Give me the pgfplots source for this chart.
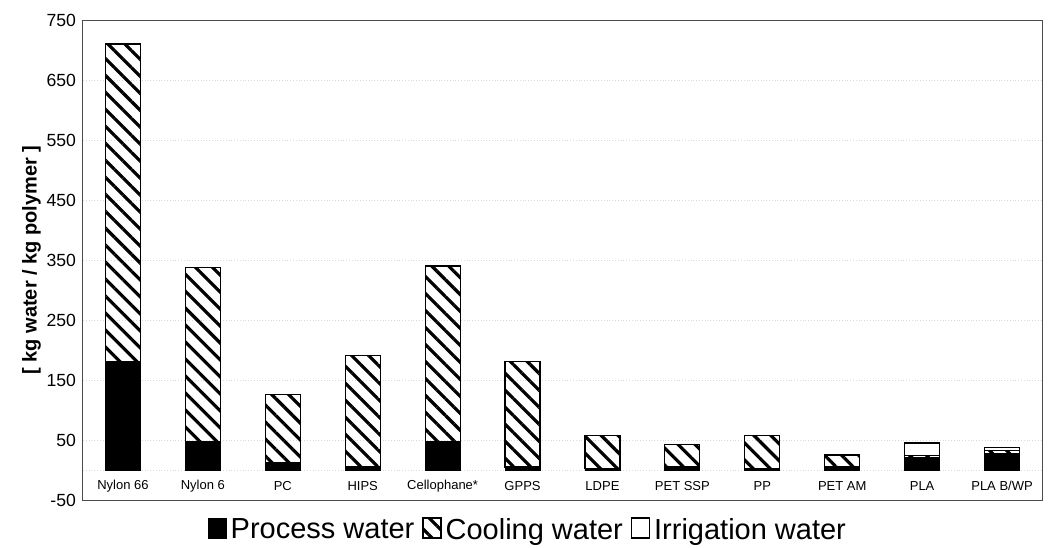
\documentclass[border=0pt]{standalone}
\usepackage{fontspec}
\setmainfont{Liberation Sans}
\usepackage{pgfplots}
\pgfplotsset{compat=1.18}
\usetikzlibrary{patterns.meta}

\begin{document}
\begin{tikzpicture}[x=1pt,y=1pt]
\useasboundingbox (-41.5,-23.5) rectangle (484,250);
\begin{axis}[
    at={(0,0)}, anchor=south west,
    scale only axis,
    width=479.5pt, height=240pt,
    ybar stacked,
    bar width=17.5pt,
    xmin=-0.5, xmax=11.5,
    ymin=-50, ymax=750,
    ytick={-50,50,150,250,350,450,550,650,750},
    extra y ticks={0},
    extra y tick labels={},
    xtick={0,...,11},
    xticklabels={Nylon 66,Nylon 6,PC,HIPS,Cellophane*,GPPS,LDPE,PET SSP,PP,PET AM,PLA,PLA B/WP},
    xticklabel style={font=\fontsize{6.5}{7}\selectfont, anchor=center, yshift=7pt},
    yticklabel style={font=\fontsize{8.8}{9}\selectfont},
    /pgf/number format/assume math mode=true,
    ylabel={\bfseries [ kg water / kg polymer ]},
    ylabel style={font=\fontsize{10}{11}\selectfont, yshift=-4pt},
    major tick length=0pt,
    ymajorgrids=true,
    grid style={densely dotted, gray!30, line width=0.4pt},
    axis line style={black!70, line width=0.5pt},
    legend style={at={(0.465,-0.02)}, anchor=north, draw=none,
        legend columns=-1, font=\fontsize{14.5}{15}\selectfont,
        /tikz/every even column/.append style={column sep=2pt}},
    legend image code/.code={\draw[#1] (0pt,-4pt) rectangle (9pt,6pt);},
]
\addplot[fill=black, draw=black] coordinates {
    (0,180)(1,47)(2,13)(3,5)(4,47)(5,5)(6,2)(7,5)(8,2)(9,5)(10,20)(11,27)};
\addplot[draw=black, line width=0.6pt, pattern={Lines[angle=-45,distance=6pt,line width=1.6pt]}] coordinates {
    (0,530)(1,290)(2,113)(3,186)(4,293)(5,176)(6,55)(7,37)(8,55)(9,20)(10,4)(11,5)};
\addplot[fill=white, draw=black, line width=0.6pt] coordinates {
    (0,0)(1,0)(2,0)(3,0)(4,0)(5,0)(6,0)(7,0)(8,0)(9,0)(10,21)(11,5)};
\legend{Process water,Cooling water,Irrigation water}
\end{axis}
\end{tikzpicture}
\end{document}
